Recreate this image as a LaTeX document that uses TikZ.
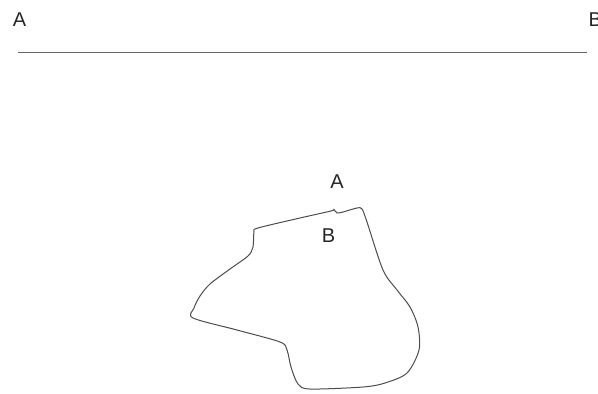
\documentclass[tikz,border=0pt]{standalone}
\usepackage{fontspec}
\setmainfont{Liberation Sans}
\begin{document}
\begin{tikzpicture}[x=1pt,y=-1pt,
  lbl/.style={font=\fontsize{20}{22}\selectfont, inner sep=0pt, text=black!85},
  outline/.style={draw=black!70, line width=1pt}]
\useasboundingbox (0,0) rectangle (598,394);
\node[lbl] (A1) at (19.5,19.5) {A};
\node[lbl, anchor=west] (B1) at (588.5,19.5) {B};
\coordinate (L1) at (18,52.3);
\coordinate (L2) at (586.5,52.3);
\draw[draw=black!60, line width=1pt] (L1) -- (L2);
\node[lbl] (A2) at (337,182) {A};
\node[lbl] (B2) at (328.5,235.5) {B};
\draw[outline] plot[smooth cycle, tension=0.5] coordinates {
 (362,209) (367,222) (383,270) (397,290) (410,307) (418,327) (419,350)
 (407,373) (385,383) (363,387) (310,389) (298,384) (291,367) (287,350)
 (280,342) (237,330) (193,318) (194,308) (200,296) (210,284) (230,269) (248,256)
 (253,247) (254,232) (258,228) (300,218) (331,211) (334,209.5) (337,213)
 (343,212) (357,208)};
\end{tikzpicture}
\end{document}
